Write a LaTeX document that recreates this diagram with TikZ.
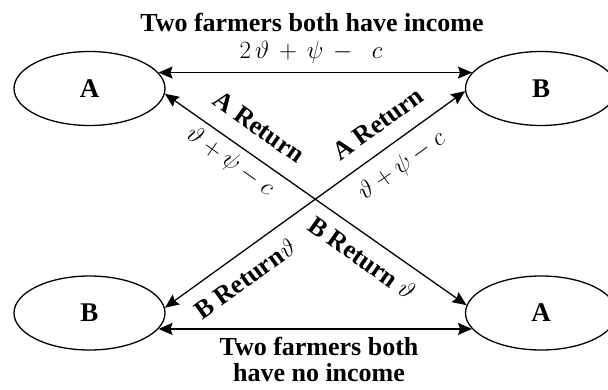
\documentclass[tikz,border=0pt]{standalone}
\usepackage{fontspec}
\setmainfont{Liberation Serif}
\usetikzlibrary{shapes.geometric,arrows.meta}
\tikzset{
  state/.style={draw, ellipse, line width=1.3pt, minimum width=151pt, minimum height=74pt, inner sep=0pt,
    font=\bfseries\fontsize{27}{29}\selectfont},
  conn/.style={line width=1.3pt, {Stealth[length=14pt,width=12pt,inset=2pt]}-{Stealth[length=14pt,width=12pt,inset=2pt]}},
  lbl/.style={font=\bfseries\fontsize{26}{28}\selectfont, inner sep=0pt},
  mlbl/.style={font=\fontsize{28}{30}\selectfont, inner sep=0pt}
}
\begin{document}
\begin{tikzpicture}[x=1pt,y=-1pt]
\useasboundingbox (0,0) rectangle (608,390);
\node[state] (tlA) at (89.5,88.5) {A};
\node[state] (trB) at (541,88.5) {B};
\node[state] (blB) at (89.5,313) {B};
\node[state] (brA) at (541,313) {A};

\draw[conn] (tlA.13) -- (trB.167);
\draw[conn] (blB.-13) -- (brA.193);
\draw[conn] (tlA.-4) -- (brA.174);
\draw[conn] (trB.182) -- (blB.4);

\node[lbl, anchor=base] (t1) at (312,32) {Two farmers both have income};
\node[mlbl, anchor=base] (m1) at (311,59) {$2\,\vartheta\,+\,\psi\,-\;\;c$};
\node[lbl, anchor=base] (t2) at (319,355) {Two farmers both};
\node[lbl, anchor=base] (t3) at (319,381) {have no income};

\node[lbl, rotate=-35.3] (l1) at (259,127) {A Return};
\node[mlbl, rotate=-35.3] (l2) at (230,162) {$\vartheta+\psi-c$};
\node[lbl, rotate=-35.3] (l3) at (362,258) {B Return $\vartheta$};
\node[lbl, rotate=35.8] (l4) at (378,124) {A Return};
\node[mlbl, rotate=35.8] (l5) at (402,166) {$\vartheta+\psi-c$};
\node[lbl, rotate=35.8] (l6) at (245,279) {B Return$\vartheta$};
\end{tikzpicture}
\end{document}
